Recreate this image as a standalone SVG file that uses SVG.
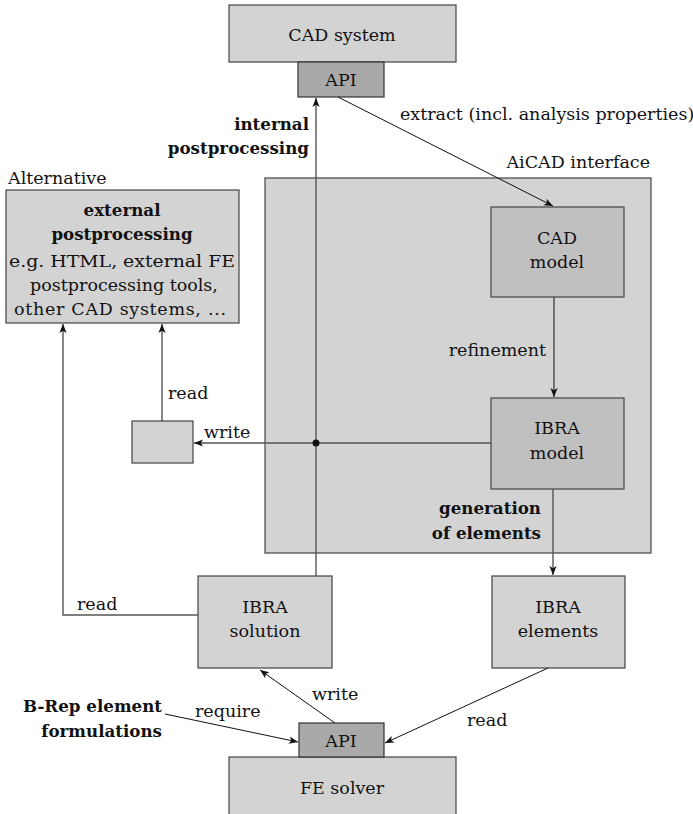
<svg xmlns="http://www.w3.org/2000/svg" width="693" height="814" viewBox="0 0 693 814">
  <style>
    text { font-family: "DejaVu Serif", "Liberation Serif", serif; font-size: 17.5px; fill: #111; }
    .b { font-weight: bold; font-size: 16.7px; }
    .m { text-anchor: middle; }
    .e { text-anchor: end; }
    .box { fill: #d3d3d3; stroke: #444; stroke-width: 1.2; }
    .dark { fill: #c0c0c0; stroke: #444; stroke-width: 1.2; }
    .api { fill: #a9a9a9; stroke: #333; stroke-width: 1.2; }
    .ln { fill: none; stroke: #111; stroke-width: 1; }
    .gl { fill: none; stroke: #555; stroke-width: 1.4; }
  </style>
  <defs>
    <marker id="ah" viewBox="0 0 10 10" refX="10" refY="5" markerWidth="9" markerHeight="9" markerUnits="userSpaceOnUse" orient="auto">
      <path d="M0,1 L10,5 L0,9 L2.5,5 Z" fill="#111"/>
    </marker>
  </defs>

  <g id="aicad">
    <rect class="box" x="265" y="178" width="386" height="375"/>
    <text class="e" x="650" y="168">AiCAD interface</text>
  </g>

  <g id="cad-system">
    <rect class="box" x="229" y="5" width="227" height="57"/>
    <text class="m" x="342" y="41">CAD system</text>
  </g>
  <g id="cad-api">
    <rect class="api" x="298" y="62" width="86" height="35"/>
    <text class="m" x="341" y="86">API</text>
  </g>

  <g id="external">
    <text x="8" y="184">Alternative</text>
    <rect class="box" x="6" y="190" width="233" height="133"/>
    <text class="m b" x="122" y="216">external</text>
    <text class="m b" x="122" y="240">postprocessing</text>
    <text class="m" x="122" y="267" textLength="226" lengthAdjust="spacingAndGlyphs">e.g. HTML, external FE</text>
    <text class="m" x="124" y="291">postprocessing tools,</text>
    <text class="m" x="120" y="315" textLength="212" lengthAdjust="spacing">other CAD systems, ...</text>
  </g>

  <g id="cad-model">
    <rect class="dark" x="491" y="207" width="133" height="90"/>
    <text class="m" x="557" y="244">CAD</text>
    <text class="m" x="557" y="268">model</text>
  </g>

  <g id="ibra-model">
    <rect class="dark" x="491" y="398" width="133" height="91"/>
    <text class="m" x="557" y="434">IBRA</text>
    <text class="m" x="557" y="459">model</text>
  </g>

  <g id="file">
    <rect class="box" x="132" y="421" width="61" height="42"/>
  </g>

  <g id="ibra-solution">
    <rect class="box" x="198" y="576" width="134" height="92"/>
    <text class="m" x="265" y="613">IBRA</text>
    <text class="m" x="265" y="637">solution</text>
  </g>

  <g id="ibra-elements">
    <rect class="box" x="492" y="576" width="133" height="92"/>
    <text class="m" x="558" y="613">IBRA</text>
    <text class="m" x="558" y="637">elements</text>
  </g>

  <g id="fe-solver">
    <rect class="box" x="229" y="757" width="227" height="60"/>
    <text class="m" x="342" y="794">FE solver</text>
  </g>
  <g id="fe-api">
    <rect class="api" x="299" y="723" width="85" height="34"/>
    <text class="m" x="341" y="747">API</text>
  </g>

  <g id="connectors">
    <!-- internal postprocessing -->
    <path class="gl" d="M316,576 V98" marker-end="url(#ah)"/>
    <text class="e b" x="309" y="130">internal</text>
    <text class="e b" x="309" y="154">postprocessing</text>
    <!-- extract -->
    <path class="ln" d="M338,97 L553,206" marker-end="url(#ah)"/>
    <text x="400" y="120">extract (incl. analysis properties)</text>
    <!-- refinement -->
    <path class="ln" d="M554,297 V397" marker-end="url(#ah)"/>
    <text class="e" x="546" y="356">refinement</text>
    <!-- write to file -->
    <path class="gl" d="M491,443 H194" marker-end="url(#ah)"/>
    <circle cx="316" cy="443" r="3.5" fill="#111"/>
    <text x="204" y="438">write</text>
    <!-- file read -->
    <path class="ln" d="M162,421 V324" marker-end="url(#ah)"/>
    <text x="168" y="399">read</text>
    <!-- generation of elements -->
    <path class="gl" d="M553,489 V575" marker-end="url(#ah)"/>
    <text class="e b" x="541" y="514">generation</text>
    <text class="e b" x="541" y="539">of elements</text>
    <!-- solution read -->
    <path class="gl" d="M198,615 H63 V324" marker-end="url(#ah)"/>
    <text x="77" y="610">read</text>
    <!-- write solution -->
    <path class="ln" d="M335,723 L260,670" marker-end="url(#ah)"/>
    <text x="312" y="700">write</text>
    <!-- require -->
    <path class="ln" d="M165,714 L298,742" marker-end="url(#ah)"/>
    <text x="195" y="717">require</text>
    <text class="e b" x="162" y="712">B-Rep element</text>
    <text class="e b" x="162" y="737">formulations</text>
    <!-- elements read -->
    <path class="ln" d="M548,668 L385,743" marker-end="url(#ah)"/>
    <text x="467" y="726">read</text>
  </g>
</svg>
